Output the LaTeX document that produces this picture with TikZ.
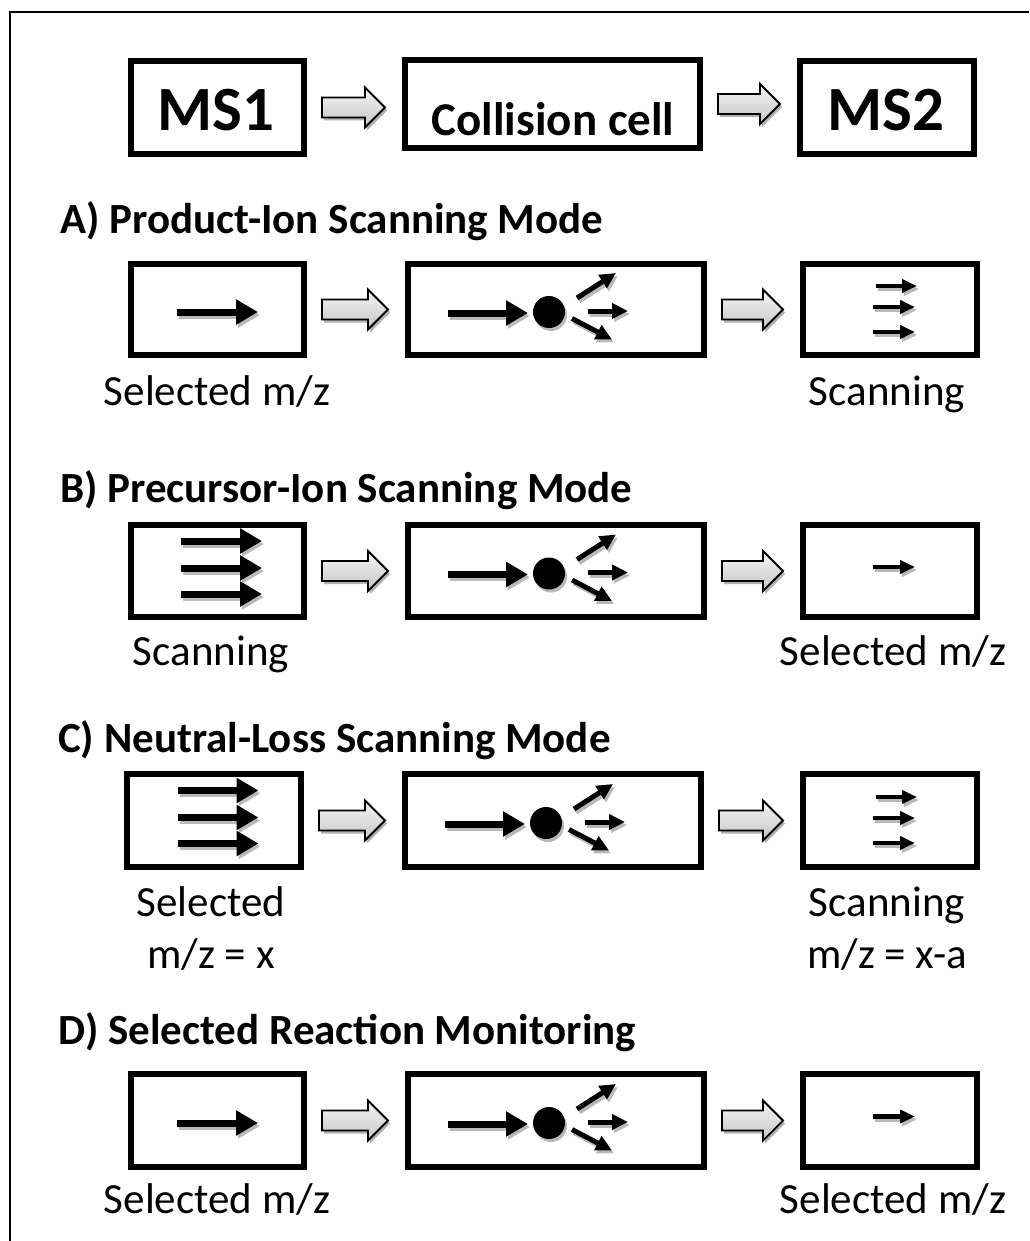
\documentclass[tikz,border=0pt]{standalone}
\usepackage{fontspec}
\setmainfont{Carlito}
\usetikzlibrary{arrows.meta,calc}
\tikzset{
  box/.style={draw,line width=6pt,inner sep=0pt},
  bigA/.style={line width=7pt,-{Triangle[length=22pt,width=24pt]}},
  smallA/.style={line width=4.5pt,-{Triangle[length=15pt,width=13pt]}},
  fragA/.style={line width=5pt,-{Triangle[length=16pt,width=15pt]}},
  blk/.style={draw=black,line width=1.8pt,line join=miter,top color=gray!8,bottom color=gray!45},
  blkshadow/.style={fill=gray!60,draw=none},
  head/.style={font=\fontsize{43}{49}\selectfont\bfseries,anchor=base west,inner sep=0pt},
  lab/.style={font=\fontsize{43}{50}\selectfont,anchor=base,inner sep=0pt},
  big/.style={font=\fontsize{63}{70}\selectfont\bfseries,anchor=base,inner sep=0pt},
  cell/.style={font=\fontsize{47}{54}\selectfont\bfseries,anchor=base,inner sep=0pt}
}
\newcommand\farrow[3]{\draw[#1,draw=gray!55,shift={(2,3)}] #2 -- #3; \draw[#1] #2 -- #3;}
\newcommand\blkarr[2]{%
  \coordinate (bs) at ($(#1.east)+(15,0)$);
  \coordinate (bt) at ($(#2.west)+(-17,0)$);
  \coordinate (bt) at (bt |- bs);
  \begin{scope}[transform canvas={shift={(2pt,-3pt)}}]
  \path[blkshadow] ($(bs)+(0,-10)$) -- ($(bt)+(-20,-10)$) -- ($(bt)+(-20,-20)$) -- (bt) -- ($(bt)+(-20,20)$) -- ($(bt)+(-20,10)$) -- ($(bs)+(0,10)$) -- cycle;
  \end{scope}
  \path[blk] ($(bs)+(0,-10)$) -- ($(bt)+(-20,-10)$) -- ($(bt)+(-20,-20)$) -- (bt) -- ($(bt)+(-20,20)$) -- ($(bt)+(-20,10)$) -- ($(bs)+(0,10)$) -- cycle;
}
\newcommand\cellcontent[1]{%
  \begin{scope}[shift={(#1)}]
    \farrow{bigA}{(-108,3.5)}{(-28,3.5)}
    \fill[gray!55] (-5,5.5) circle (16);
    \fill (-7,2.5) circle (16);
    \farrow{fragA}{(21,-11.5)}{(60,-36.5)}
    \farrow{fragA}{(32,1.5)}{(72,1.5)}
    \farrow{fragA}{(16,9)}{(56,30)}
  \end{scope}}
\newcommand\onebig[1]{\begin{scope}[shift={(#1)}]\farrow{bigA}{(-40.5,2.5)}{(40.5,2.5)}\end{scope}}
\newcommand\threebig[1]{\begin{scope}[shift={(#1)}]
  \farrow{bigA}{(-36.5,-30)}{(44.5,-30)}
  \farrow{bigA}{(-36.5,-3)}{(44.5,-3)}
  \farrow{bigA}{(-36.5,23)}{(44.5,23)}\end{scope}}
\newcommand\onesmall[1]{\begin{scope}[shift={(#1)}]\farrow{smallA}{(-17,-4)}{(25,-4)}\end{scope}}
\newcommand\threesmall[1]{\begin{scope}[shift={(#1)}]
  \farrow{smallA}{(-14,-23.5)}{(27,-23.5)}
  \farrow{smallA}{(-17,-2.5)}{(25,-2.5)}
  \farrow{smallA}{(-17,22.5)}{(25,22.5)}\end{scope}}
\begin{document}
\begin{tikzpicture}[x=1pt,y=-1pt]
\useasboundingbox (0,0) rectangle (1029,1241);
\fill[white] (0,0) rectangle (1029,1241);
\draw[line width=2.5pt] (10,1241) -- (10,12) -- (1029,12);
% top row
\node[box,minimum width=173,minimum height=93] (ms1) at (217.5,107.5) {};
\node[box,minimum width=295,minimum height=88] (cc) at (552.5,104) {};
\node[box,minimum width=174,minimum height=93] (ms2) at (887,107.5) {};
\node[big] (t1) at (216,131) {MS1};
\node[cell] (t2) at (553,136) {Collision cell};
\node[big] (t3) at (886,131) {MS2};
\blkarr{ms1}{cc}
\blkarr{cc}{ms2}
% A
\node[head] (ha) at (60,234) {A) Product-Ion Scanning Mode};
\node[box,minimum width=173,minimum height=91] (a1) at (217.5,309.5) {};
\node[box,minimum width=296,minimum height=91] (a2) at (556,309.5) {};
\node[box,minimum width=174,minimum height=91] (a3) at (890,309.5) {};
\blkarr{a1}{a2}
\blkarr{a2}{a3}
\onebig{a1}
\cellcontent{a2}
\threesmall{a3}
\node[lab] (la1) at (217,405) {Selected m/z};
\node[lab] (la3) at (887,405) {Scanning};
% B
\node[head] (hb) at (60,502) {B) Precursor-Ion Scanning Mode};
\node[box,minimum width=173,minimum height=92] (b1) at (217.5,571) {};
\node[box,minimum width=296,minimum height=92] (b2) at (556,571) {};
\node[box,minimum width=174,minimum height=92] (b3) at (890,571) {};
\blkarr{b1}{b2}
\blkarr{b2}{b3}
\threebig{b1}
\cellcontent{b2}
\onesmall{b3}
\node[lab] (lb1) at (211,665) {Scanning};
\node[lab] (lb3) at (893,665) {Selected m/z};
% C
\node[head] (hc) at (58,752) {C) Neutral-Loss Scanning Mode};
\node[box,minimum width=174,minimum height=93] (c1) at (214,820.5) {};
\node[box,minimum width=296,minimum height=93] (c2) at (553,820.5) {};
\node[box,minimum width=174,minimum height=93] (c3) at (890,820.5) {};
\blkarr{c1}{c2}
\blkarr{c2}{c3}
\threebig{c1}
\cellcontent{c2}
\threesmall{c3}
\node[lab] (lc1) at (211,916) {Selected};
\node[lab] (lc2) at (211,968) {m/z = x};
\node[lab] (lc3) at (887,916) {Scanning};
\node[lab] (lc4) at (887,968) {m/z = x-a};
% D
\node[head] (hd) at (58,1044) {D) Selected Reaction Monitoring};
\node[box,minimum width=173,minimum height=93] (d1) at (217.5,1120.5) {};
\node[box,minimum width=296,minimum height=93] (d2) at (556,1120.5) {};
\node[box,minimum width=174,minimum height=93] (d3) at (890,1120.5) {};
\blkarr{d1}{d2}
\blkarr{d2}{d3}
\onebig{d1}
\cellcontent{d2}
\onesmall{d3}
\node[lab] (ld1) at (217,1213) {Selected m/z};
\node[lab] (ld3) at (893,1213) {Selected m/z};
\end{tikzpicture}
\end{document}
